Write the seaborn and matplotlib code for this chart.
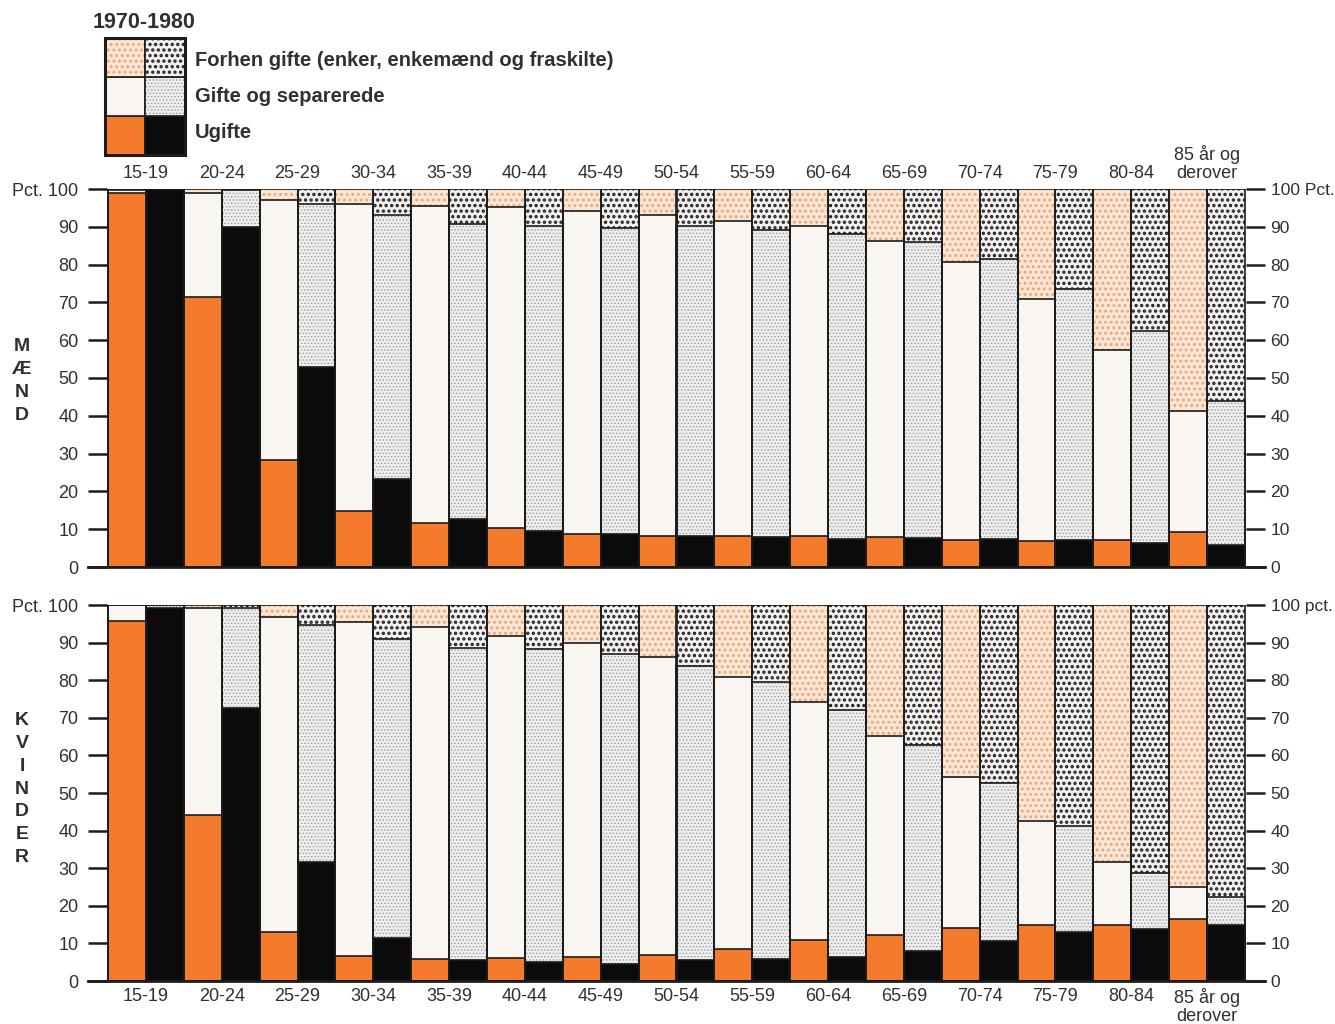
import pandas as pd
import seaborn as sns
import matplotlib.pyplot as plt
from matplotlib.patches import Rectangle

ages = ["15-19", "20-24", "25-29", "30-34", "35-39", "40-44", "45-49", "50-54",
        "55-59", "60-64", "65-69", "70-74", "75-79", "80-84", "85 år og\nderover"]
years = ["1970", "1980"]

# Mænd, pct. (ugifte / gifte og separerede / forhen gifte)
m_ugifte_70 = [99.0, 71.4, 28.3, 14.8, 11.6, 10.3, 8.7, 8.2, 8.2, 8.2, 7.9, 7.1, 6.9, 7.1, 9.3]
m_gifte_70 = [0.8, 27.6, 68.7, 81.2, 83.9, 84.9, 85.5, 84.9, 83.3, 82.0, 78.3, 73.6, 64.0, 50.3, 32.0]
m_forhen_70 = [0.2, 1.0, 3.0, 4.0, 4.5, 4.8, 5.8, 6.9, 8.5, 9.8, 13.8, 19.3, 29.1, 42.6, 58.7]
m_ugifte_80 = [100.0, 90.0, 53.0, 23.3, 12.7, 9.5, 8.7, 8.2, 7.9, 7.4, 7.7, 7.4, 7.1, 6.3, 5.8]
m_gifte_80 = [0.0, 9.7, 43.0, 69.7, 78.0, 80.7, 81.0, 82.0, 81.3, 80.6, 78.3, 74.1, 66.4, 56.1, 38.1]
m_forhen_80 = [0.0, 0.3, 4.0, 7.0, 9.3, 9.8, 10.3, 9.8, 10.8, 12.0, 14.0, 18.5, 26.5, 37.6, 56.1]

# Kvinder, pct.
k_ugifte_70 = [95.7, 44.1, 13.0, 6.6, 5.9, 6.1, 6.4, 6.9, 8.5, 10.9, 12.2, 14.1, 14.9, 14.9, 16.5]
k_gifte_70 = [4.3, 55.1, 83.8, 88.9, 88.2, 85.7, 83.5, 79.3, 72.4, 63.3, 53.0, 40.2, 27.7, 16.7, 8.5]
k_forhen_70 = [0.0, 0.8, 3.2, 4.5, 5.9, 8.2, 10.1, 13.8, 19.1, 25.8, 34.8, 45.7, 57.4, 68.4, 75.0]
k_ugifte_80 = [99.2, 72.6, 31.6, 11.4, 5.6, 5.1, 4.5, 5.6, 5.9, 6.4, 8.0, 10.6, 13.0, 13.8, 14.9]
k_gifte_80 = [0.8, 26.6, 63.1, 79.6, 83.0, 83.2, 82.5, 78.2, 73.6, 65.7, 54.8, 42.1, 28.2, 14.9, 7.4]
k_forhen_80 = [0.0, 0.8, 5.3, 9.0, 11.4, 11.7, 13.0, 16.2, 20.5, 27.9, 37.2, 47.3, 58.8, 71.3, 77.7]

ORANGE = "#f47a2c"
TXT = "#342e2e"
styles = {
    ("forhen", "1970"): dict(fc="#fbe6d4", hatch="...", hc="#eaa47a", hlw=1.3),
    ("forhen", "1980"): dict(fc="#f3f0ef", hatch="...", hc="#1e1e1e", hlw=1.6),
    ("gifte", "1970"): dict(fc="#f9f6f2", hatch="", hc="#f9f6f2", hlw=0.5),
    ("gifte", "1980"): dict(fc="#eeeeef", hatch=".....", hc="#9a9a9a", hlw=0.6),
    ("ugifte", "1970"): dict(fc=ORANGE, hatch="", hc=ORANGE, hlw=0.5),
    ("ugifte", "1980"): dict(fc="#0b0b0b", hatch="", hc="#0b0b0b", hlw=0.5),
}


def style_patch(p, st):
    p.set_facecolor(st["fc"])
    p.set_edgecolor(st["hc"])
    p.set_hatch(st["hatch"])
    p.set_linewidth(0)
    if hasattr(p, "set_hatch_linewidth"):
        p.set_hatch_linewidth(st["hlw"])


def make_frame(u70, g70, f70, u80, g80, f80):
    rows = []
    for yr, u, g, f in [("1970", u70, g70, f70), ("1980", u80, g80, f80)]:
        for a, uu, gg, ff in zip(ages, u, g, f):
            rows.append({"age": a, "year": yr, "ugifte": uu,
                         "gifte": uu + gg, "forhen": uu + gg + ff})
    return pd.DataFrame(rows)


def draw_panel(ax, df, top_label, right_top):
    # cumulative bars drawn from the tallest down, so they stack visually
    for key in ["forhen", "gifte", "ugifte"]:
        n0 = len(ax.containers)
        sns.barplot(data=df, x="age", y=key, hue="year", order=ages, hue_order=years,
                    width=1.0, dodge=True, errorbar=None, legend=False, saturation=1,
                    palette={yr: styles[(key, yr)]["fc"] for yr in years}, ax=ax)
        for cont, yr in zip(ax.containers[n0:], years):
            for p in cont:
                style_patch(p, styles[(key, yr)])
                ax.add_patch(Rectangle(p.get_xy(), p.get_width(), p.get_height(),
                                       fill=False, ec="#1c1c1c", lw=1.2, zorder=3))
    ax.set_xlim(-0.765, 14.765)
    ax.set_ylim(0, 100)
    ax.set_xlabel("")
    ax.set_ylabel("")
    for s in ["left", "right", "top"]:
        ax.spines[s].set_visible(False)
    ax.spines["bottom"].set_linewidth(2)
    ax.spines["bottom"].set_color("#1c1c1c")
    ax.spines["bottom"].set_zorder(4)
    ticks = list(range(0, 101, 10))
    ax.set_yticks(ticks)
    ax.set_yticklabels([str(t) for t in ticks[:-1]] + ["Pct. 100"])
    ax.tick_params(axis="y", direction="in", length=14, width=1.8, color="#1c1c1c",
                   labelsize=13, labelcolor=TXT, pad=7)
    if top_label:
        ax.xaxis.tick_top()
    ax.tick_params(axis="x", length=0, labelsize=13, labelcolor=TXT, pad=5)
    for t in ax.get_xticklabels():
        t.set_linespacing(1.05)
    ax2 = ax.twinx()
    ax2.set_ylim(0, 100)
    ax2.set_yticks(ticks)
    ax2.set_yticklabels([str(t) for t in ticks[:-1]] + [right_top])
    ax2.tick_params(axis="y", direction="in", length=14, width=1.8, color="#1c1c1c",
                    labelsize=12.5, labelcolor=TXT, pad=4)
    for s in ax2.spines.values():
        s.set_visible(False)


sns.set_style("white")
plt.rcParams["font.family"] = ["Liberation Sans", "DejaVu Sans"]
plt.rcParams["hatch.linewidth"] = 1.3

W, H = 1335, 1024
fig = plt.figure(figsize=(W / 100, H / 100), dpi=100)

x0, x1 = 88 / W, 1265 / W
ax_m = fig.add_axes([x0, 1 - 567 / H, x1 - x0, (567 - 189) / H])
ax_k = fig.add_axes([x0, 1 - 981 / H, x1 - x0, (981 - 605) / H])

draw_panel(ax_m, make_frame(m_ugifte_70, m_gifte_70, m_forhen_70,
                            m_ugifte_80, m_gifte_80, m_forhen_80), True, "100 Pct.")
draw_panel(ax_k, make_frame(k_ugifte_70, k_gifte_70, k_forhen_70,
                            k_ugifte_80, k_gifte_80, k_forhen_80), False, "100 pct.")

fig.text(22 / W, 1 - 381 / H, "M\nÆ\nN\nD", ha="center", va="center",
         fontsize=14, fontweight="bold", color=TXT, linespacing=1.45)
fig.text(22 / W, 1 - 789 / H, "K\nV\nI\nN\nD\nE\nR", ha="center", va="center",
         fontsize=14, fontweight="bold", color=TXT, linespacing=1.45)

# legend
fig.text(93 / W, 1 - 22 / H, "1970-1980", ha="left", va="center",
         fontsize=15.5, fontweight="bold", color=TXT)
lg = fig.add_axes([105 / W, 1 - 155 / H, 80 / W, 117 / H])
lg.set_xlim(0, 2)
lg.set_ylim(0, 3)
lg.axis("off")
for row, key in enumerate(["ugifte", "gifte", "forhen"]):
    for col, yr in enumerate(years):
        r = Rectangle((col, row), 1, 1)
        style_patch(r, styles[(key, yr)])
        lg.add_patch(r)
        lg.add_patch(Rectangle((col, row), 1, 1, fill=False, ec="#1c1c1c", lw=1.2))
lg.add_patch(Rectangle((0, 0), 2, 3, fill=False, ec="#1c1c1c", lw=2.2, clip_on=False))
labels = ["Forhen gifte (enker, enkemænd og fraskilte)", "Gifte og separerede", "Ugifte"]
for lab, yy in zip(labels, [60, 97, 133]):
    fig.text(195 / W, 1 - yy / H, lab, ha="left", va="center",
             fontsize=14.5, fontweight="bold", color=TXT)

fig.savefig("out.png", dpi=100, facecolor="white")
